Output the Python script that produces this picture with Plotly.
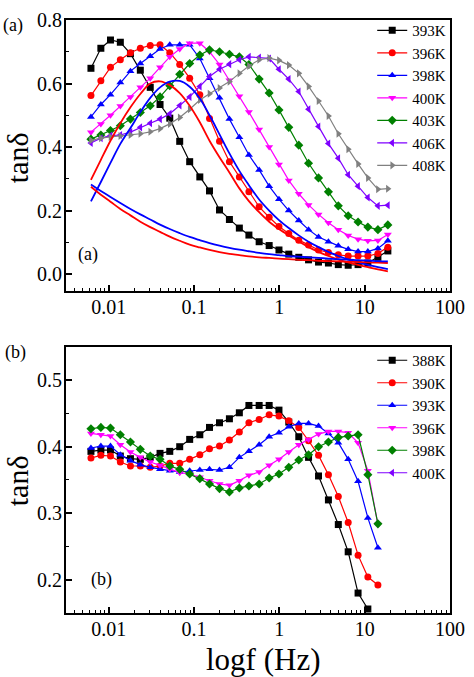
import plotly.graph_objects as go

# ---------------- data ----------------
freq = [0.0062, 0.0081, 0.0105, 0.0137, 0.018, 0.0235, 0.0307, 0.040, 0.052, 0.068,
        0.089, 0.117, 0.152, 0.199, 0.26, 0.34, 0.44, 0.58, 0.76, 0.99,
        1.29, 1.69, 2.2, 2.88, 3.76, 4.91, 6.41, 8.37, 10.9, 14.3, 18.7]

# panel (a)
labels_a = ["393K", "396K", "398K", "400K", "403K", "406K", "408K"]
t393 = [0.648, 0.711, 0.737, 0.730, 0.694, 0.642, 0.588, 0.534, 0.491, 0.418, 0.354,
        0.306, 0.262, 0.202, 0.172, 0.145, 0.123, 0.102, 0.090, 0.076, 0.063, 0.053,
        0.045, 0.038, 0.035, 0.030, 0.028, 0.030, 0.035, 0.053, 0.073]
t396 = [0.562, 0.609, 0.651, 0.675, 0.697, 0.711, 0.720, 0.722, 0.697, 0.660, 0.617,
        0.565, 0.490, 0.418, 0.354, 0.306, 0.259, 0.212, 0.179, 0.150, 0.128, 0.107,
        0.092, 0.076, 0.068, 0.061, 0.057, 0.057, 0.057, 0.065, 0.085]
t398 = [0.495, 0.534, 0.565, 0.603, 0.639, 0.663, 0.686, 0.709, 0.722, 0.722, 0.722,
        0.679, 0.617, 0.555, 0.488, 0.431, 0.375, 0.328, 0.277, 0.236, 0.200, 0.169,
        0.140, 0.117, 0.102, 0.089, 0.078, 0.071, 0.071, 0.081, 0.105]
t400 = [0.447, 0.473, 0.500, 0.529, 0.558, 0.588, 0.617, 0.651, 0.684, 0.709, 0.727,
        0.727, 0.700, 0.660, 0.610, 0.560, 0.510, 0.455, 0.400, 0.345, 0.295, 0.253,
        0.218, 0.188, 0.162, 0.140, 0.122, 0.110, 0.105, 0.106, 0.125]
t403 = [0.425, 0.438, 0.452, 0.467, 0.488, 0.509, 0.530, 0.558, 0.593, 0.629, 0.663,
        0.690, 0.706, 0.700, 0.692, 0.684, 0.660, 0.614, 0.570, 0.517, 0.462, 0.406,
        0.349, 0.303, 0.259, 0.215, 0.184, 0.164, 0.148, 0.140, 0.155]
t406 = [0.413, 0.428, 0.436, 0.438, 0.447, 0.462, 0.475, 0.488, 0.505, 0.531, 0.558,
        0.591, 0.622, 0.645, 0.661, 0.675, 0.684, 0.682, 0.679, 0.645, 0.614, 0.575,
        0.519, 0.465, 0.411, 0.365, 0.313, 0.277, 0.241, 0.215, 0.217]
t408 = [0.421, 0.428, 0.432, 0.435, 0.438, 0.442, 0.448, 0.458, 0.473, 0.493, 0.519,
        0.548, 0.568, 0.586, 0.606, 0.632, 0.655, 0.675, 0.680, 0.673, 0.658, 0.632,
        0.591, 0.545, 0.498, 0.442, 0.393, 0.347, 0.303, 0.267, 0.269]

# fitted curves (panel a, solid lines)
fit_red_peak = [0.297, 0.360, 0.420, 0.475, 0.525, 0.567, 0.600, 0.607, 0.595, 0.570, 0.530,
                0.478, 0.420, 0.368, 0.320, 0.270, 0.230, 0.195, 0.165, 0.142, 0.122, 0.103,
                0.085, 0.070, 0.057, 0.046, 0.037, 0.029, 0.022, 0.015, 0.009]
fit_blue_peak = [0.229, 0.290, 0.350, 0.410, 0.460, 0.510, 0.555, 0.588, 0.606, 0.608, 0.590,
                 0.553, 0.500, 0.440, 0.380, 0.325, 0.280, 0.235, 0.200, 0.170, 0.145, 0.122,
                 0.102, 0.085, 0.070, 0.057, 0.046, 0.037, 0.029, 0.022, 0.016]
fit_red_dec = [0.275, 0.250, 0.228, 0.205, 0.185, 0.165, 0.148, 0.133, 0.118, 0.105, 0.093,
               0.084, 0.076, 0.069, 0.064, 0.060, 0.056, 0.053, 0.051, 0.049, 0.047, 0.045,
               0.044, 0.042, 0.041, 0.040, 0.039, 0.038, 0.037, 0.036, 0.035]
fit_blue_dec = [0.282, 0.262, 0.243, 0.224, 0.205, 0.188, 0.172, 0.156, 0.142, 0.129, 0.117,
                0.107, 0.098, 0.090, 0.083, 0.077, 0.072, 0.067, 0.063, 0.060, 0.057, 0.055,
                0.053, 0.051, 0.049, 0.047, 0.046, 0.044, 0.043, 0.041, 0.040]

# panel (b)
labels_b = ["388K", "390K", "393K", "396K", "398K", "400K"]
b388 = [0.393, 0.395, 0.395, 0.386, 0.382, 0.381, 0.384, 0.390, 0.393, 0.400, 0.411,
        0.418, 0.429, 0.436, 0.442, 0.451, 0.462, 0.462, 0.462, 0.455, 0.437, 0.415,
        0.384, 0.356, 0.320, 0.283, 0.242, 0.180, 0.156]
b390 = [0.383, 0.387, 0.386, 0.377, 0.371, 0.371, 0.369, 0.371, 0.375, 0.375, 0.381,
        0.388, 0.397, 0.401, 0.410, 0.422, 0.436, 0.441, 0.448, 0.446, 0.439, 0.429,
        0.409, 0.387, 0.358, 0.325, 0.286, 0.237, 0.204, 0.192]
b393 = [0.398, 0.401, 0.401, 0.388, 0.379, 0.373, 0.369, 0.366, 0.364, 0.362, 0.364,
        0.365, 0.366, 0.365, 0.369, 0.384, 0.393, 0.403, 0.415, 0.421, 0.430, 0.435,
        0.435, 0.431, 0.420, 0.406, 0.381, 0.348, 0.293, 0.248]
b396 = [0.420, 0.418, 0.416, 0.403, 0.392, 0.384, 0.377, 0.372, 0.366, 0.361, 0.359,
        0.354, 0.349, 0.344, 0.342, 0.349, 0.357, 0.362, 0.372, 0.381, 0.392, 0.403,
        0.411, 0.419, 0.423, 0.423, 0.421, 0.406, 0.364, 0.283]
b398 = [0.427, 0.429, 0.428, 0.418, 0.407, 0.396, 0.386, 0.381, 0.371, 0.366, 0.359,
        0.352, 0.344, 0.337, 0.332, 0.338, 0.341, 0.344, 0.353, 0.359, 0.369, 0.380,
        0.388, 0.400, 0.407, 0.414, 0.416, 0.418, 0.358, 0.284]
b400 = []  # legend entry only

x_ticks = [0.01, 0.1, 1, 10, 100]
x_ticktext = ["0.01", "0.1", "1", "10", "100"]

# ---------------- style ----------------
FONT = "Liberation Serif, Times New Roman, serif"
colors_a = ["#000000", "#ff0000", "#0000ff", "#ff00ff", "#008000", "#7f00ff", "#808080"]
symbols_a = ["square", "circle", "triangle-up", "triangle-down", "diamond", "triangle-left", "triangle-right"]
colors_b = ["#000000", "#ff0000", "#0000ff", "#ff00ff", "#008000", "#7f00ff"]
symbols_b = ["square", "circle", "triangle-up", "triangle-down", "diamond", "triangle-left"]

W, H = 474, 677
ML, MR, MT, MB = 66, 18, 9, 64
plot_w = W - ML - MR
plot_h = H - MT - MB
top_px = (9, 285)
bot_px = (342, 613)


def py(ypix):
    return (H - MB - ypix) / plot_h


def px(xpix):
    return (xpix - ML) / plot_w


fig = go.Figure()

series_a = [t393, t396, t398, t400, t403, t406, t408]
for lab, ys, c, s in zip(labels_a, series_a, colors_a, symbols_a):
    fig.add_trace(go.Scatter(
        x=freq[:len(ys)], y=ys, name=lab, mode="lines+markers",
        line=dict(color=c, width=1.2),
        marker=dict(symbol=s, size=7, color=c),
        xaxis="x", yaxis="y", legend="legend"))

for ys, c in [(fit_red_peak, "#ff0000"), (fit_blue_peak, "#0000ff"),
              (fit_red_dec, "#ff0000"), (fit_blue_dec, "#0000ff")]:
    fig.add_trace(go.Scatter(
        x=freq[:len(ys)], y=ys, mode="lines", showlegend=False,
        line=dict(color=c, width=1.8, shape="spline"),
        xaxis="x", yaxis="y"))

series_b = [b388, b390, b393, b396, b398, b400]
for lab, ys, c, s in zip(labels_b, series_b, colors_b, symbols_b):
    fig.add_trace(go.Scatter(
        x=freq[:len(ys)] if ys else [None], y=ys if ys else [None], name=lab,
        mode="lines+markers",
        line=dict(color=c, width=1.2),
        marker=dict(symbol=s, size=7, color=c),
        xaxis="x2", yaxis="y2", legend="legend2"))

minor_vals = [m * 10 ** e for e in range(-3, 2) for m in range(2, 10)]

xaxis_common = dict(
    type="log", range=[-2.5, 2.0],
    tickmode="array", tickvals=x_ticks, ticktext=x_ticktext,
    ticks="inside", ticklen=6, tickwidth=1.5, tickcolor="black",
    minor=dict(ticks="inside", ticklen=3, tickwidth=1.2, tickcolor="black",
               tickmode="array", tickvals=minor_vals),
    showline=True, linewidth=2, linecolor="black", mirror=True,
    showgrid=False, zeroline=False,
    tickfont=dict(family=FONT, size=20, color="black"),
    ticklabelstandoff=-3,
)
yaxis_common = dict(
    ticks="inside", ticklen=6, tickwidth=1.5, tickcolor="black",
    showline=True, linewidth=2, linecolor="black", mirror=True,
    showgrid=False, zeroline=False,
    tickfont=dict(family=FONT, size=20, color="black"),
    ticklabelstandoff=-2,
)

legend_common = dict(xanchor="left", yanchor="top",
                     font=dict(family=FONT, size=15, color="black"),
                     bgcolor="rgba(0,0,0,0)", itemwidth=30, tracegroupgap=0)

fig.update_layout(
    width=W, height=H,
    margin=dict(l=ML, r=MR, t=MT, b=MB),
    paper_bgcolor="white", plot_bgcolor="white",
    font=dict(family=FONT, color="black"),
    xaxis=dict(**xaxis_common, domain=[0, 1], anchor="y"),
    yaxis=dict(**yaxis_common, domain=[py(top_px[1]), 1.0], anchor="x",
               range=[-0.053, 0.8], tickmode="array",
               tickvals=[0.0, 0.2, 0.4, 0.6, 0.8],
               ticktext=["0.0", "0.2", "0.4", "0.6", "0.8"],
               minor=dict(ticks="inside", ticklen=3, tickwidth=1.2, tickcolor="black",
                          tickmode="array", tickvals=[0.1, 0.3, 0.5, 0.7])),
    xaxis2=dict(**xaxis_common, domain=[0, 1], anchor="y2"),
    yaxis2=dict(**yaxis_common, domain=[0.0, py(bot_px[0])], anchor="x2",
                range=[0.15, 0.55], tickmode="array",
                tickvals=[0.2, 0.3, 0.4, 0.5],
                ticktext=["0.2", "0.3", "0.4", "0.5"],
                minor=dict(ticks="inside", ticklen=3, tickwidth=1.2, tickcolor="black",
                           tickmode="array", tickvals=[0.25, 0.35, 0.45])),
    legend=dict(x=px(377), y=py(3), **legend_common),
    legend2=dict(x=px(377), y=py(339), **legend_common),
    showlegend=True,
)

ann = [
    dict(text="(a)", x=px(0), y=py(15), xanchor="left", yanchor="middle"),
    dict(text="(b)", x=px(2), y=py(348), xanchor="left", yanchor="middle"),
    dict(text="(a)", x=px(76), y=py(248), xanchor="left", yanchor="middle"),
    dict(text="(b)", x=px(89), y=py(579), xanchor="left", yanchor="middle"),
]
for a in ann:
    fig.add_annotation(xref="paper", yref="paper", showarrow=False,
                       font=dict(family=FONT, size=18, color="black"), **a)

for ycen in (149, 478):
    fig.add_annotation(text="tanδ", xref="paper", yref="paper", x=px(17),
                       y=py(ycen), textangle=-90, showarrow=False,
                       font=dict(family=FONT, size=30, color="black"),
                       xanchor="center", yanchor="middle")
fig.add_annotation(text="logf (Hz)", xref="paper", yref="paper", x=px(266),
                   y=py(660), showarrow=False,
                   font=dict(family=FONT, size=31, color="black"),
                   xanchor="center", yanchor="middle")

fig.write_html("out.html", config={"displayModeBar": False},
               post_script="document.body.style.margin='0';document.body.style.overflow='hidden';")
